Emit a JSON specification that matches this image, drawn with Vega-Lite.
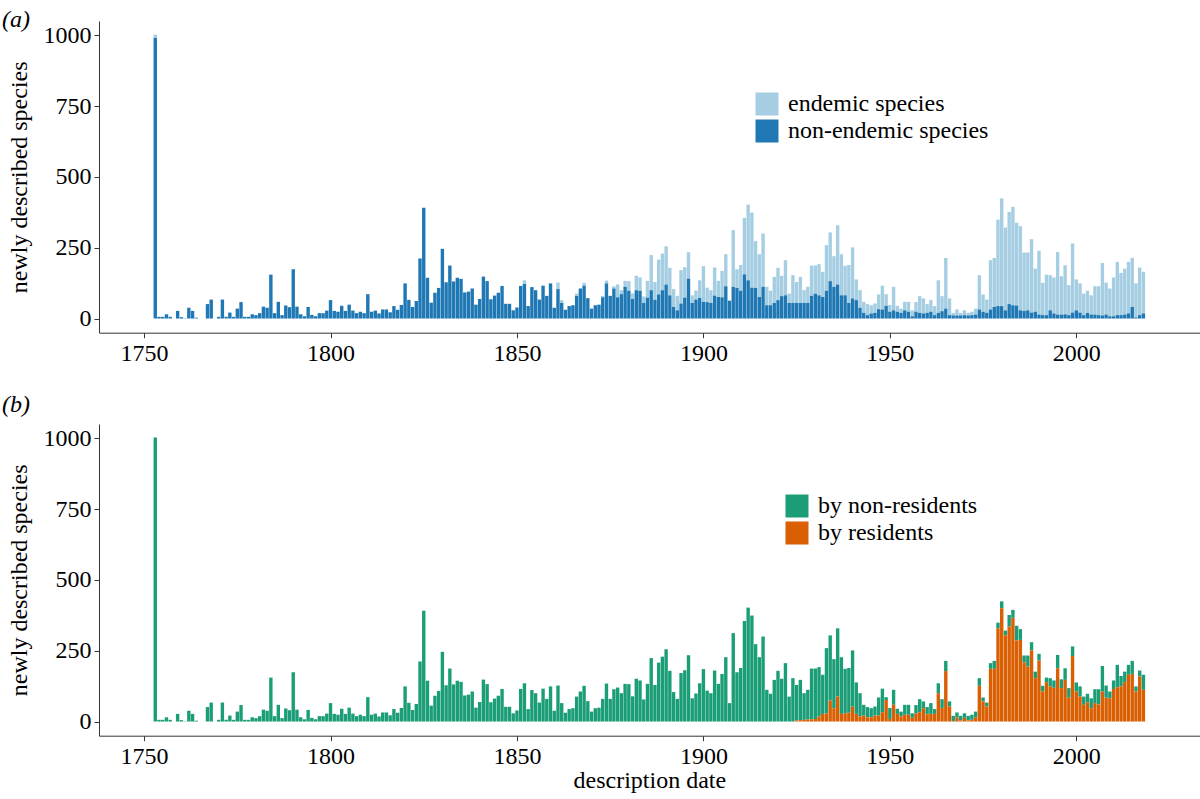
{
"$schema":"https://vega.github.io/schema/vega-lite/v6.json",
"padding":{"left":2,"top":8,"right":0,"bottom":0},
"background":"white",
"config":{
 "font":"Liberation Serif",
 "view":{"stroke":null},
 "axis":{"labelFont":"Liberation Serif","titleFont":"Liberation Serif","labelFontSize":24,"titleFontSize":24,"labelColor":"black","titleColor":"black","titleFontWeight":"normal","domainColor":"#333","domainWidth":1,"tickColor":"#333","tickWidth":1,"tickSize":5,"grid":false},
 "legend":{"labelFont":"Liberation Serif","labelFontSize":24,"labelColor":"black","labelLimit":500,"symbolType":"square","symbolSize":529,"symbolStrokeWidth":0,"symbolOpacity":1,"labelOffset":9,"rowPadding":3,"padding":0,"title":null},
 "title":{"anchor":"start","frame":"group","font":"Liberation Serif","fontSize":24,"fontWeight":"normal","fontStyle":"italic","color":"black","offset":0}
},
"datasets":{"d":[
{"yr":1753,"end":12,"nonend":990,"res":0,"nonres":1002},
{"yr":1754,"end":0,"nonend":6,"res":0,"nonres":6},
{"yr":1755,"end":0,"nonend":6,"res":0,"nonres":6},
{"yr":1756,"end":0,"nonend":15,"res":0,"nonres":15},
{"yr":1757,"end":0,"nonend":6,"res":0,"nonres":6},
{"yr":1758,"end":0,"nonend":0,"res":0,"nonres":0},
{"yr":1759,"end":0,"nonend":27,"res":0,"nonres":27},
{"yr":1760,"end":0,"nonend":5,"res":0,"nonres":5},
{"yr":1761,"end":0,"nonend":1,"res":0,"nonres":1},
{"yr":1762,"end":0,"nonend":38,"res":0,"nonres":38},
{"yr":1763,"end":0,"nonend":27,"res":0,"nonres":27},
{"yr":1764,"end":0,"nonend":3,"res":0,"nonres":3},
{"yr":1765,"end":0,"nonend":0,"res":0,"nonres":0},
{"yr":1766,"end":0,"nonend":0,"res":0,"nonres":0},
{"yr":1767,"end":0,"nonend":51,"res":0,"nonres":51},
{"yr":1768,"end":0,"nonend":67,"res":0,"nonres":67},
{"yr":1769,"end":0,"nonend":0,"res":0,"nonres":0},
{"yr":1770,"end":0,"nonend":6,"res":0,"nonres":6},
{"yr":1771,"end":0,"nonend":67,"res":0,"nonres":67},
{"yr":1772,"end":0,"nonend":6,"res":0,"nonres":6},
{"yr":1773,"end":0,"nonend":21,"res":0,"nonres":21},
{"yr":1774,"end":0,"nonend":6,"res":0,"nonres":6},
{"yr":1775,"end":0,"nonend":35,"res":0,"nonres":35},
{"yr":1776,"end":0,"nonend":58,"res":0,"nonres":58},
{"yr":1777,"end":0,"nonend":6,"res":0,"nonres":6},
{"yr":1778,"end":0,"nonend":6,"res":0,"nonres":6},
{"yr":1779,"end":0,"nonend":15,"res":0,"nonres":15},
{"yr":1780,"end":0,"nonend":12,"res":0,"nonres":12},
{"yr":1781,"end":0,"nonend":19,"res":0,"nonres":19},
{"yr":1782,"end":0,"nonend":42,"res":0,"nonres":42},
{"yr":1783,"end":0,"nonend":38,"res":0,"nonres":38},
{"yr":1784,"end":0,"nonend":155,"res":0,"nonres":155},
{"yr":1785,"end":0,"nonend":19,"res":0,"nonres":19},
{"yr":1786,"end":0,"nonend":59,"res":0,"nonres":59},
{"yr":1787,"end":0,"nonend":12,"res":0,"nonres":12},
{"yr":1788,"end":0,"nonend":46,"res":0,"nonres":46},
{"yr":1789,"end":0,"nonend":40,"res":0,"nonres":40},
{"yr":1790,"end":0,"nonend":174,"res":0,"nonres":174},
{"yr":1791,"end":0,"nonend":42,"res":0,"nonres":42},
{"yr":1792,"end":0,"nonend":15,"res":0,"nonres":15},
{"yr":1793,"end":0,"nonend":8,"res":0,"nonres":8},
{"yr":1794,"end":0,"nonend":41,"res":0,"nonres":41},
{"yr":1795,"end":0,"nonend":13,"res":0,"nonres":13},
{"yr":1796,"end":0,"nonend":8,"res":0,"nonres":8},
{"yr":1797,"end":0,"nonend":19,"res":0,"nonres":19},
{"yr":1798,"end":0,"nonend":19,"res":0,"nonres":19},
{"yr":1799,"end":0,"nonend":28,"res":0,"nonres":28},
{"yr":1800,"end":0,"nonend":65,"res":0,"nonres":65},
{"yr":1801,"end":0,"nonend":27,"res":0,"nonres":27},
{"yr":1802,"end":0,"nonend":24,"res":0,"nonres":24},
{"yr":1803,"end":0,"nonend":45,"res":0,"nonres":45},
{"yr":1804,"end":0,"nonend":27,"res":0,"nonres":27},
{"yr":1805,"end":0,"nonend":49,"res":0,"nonres":49},
{"yr":1806,"end":0,"nonend":28,"res":0,"nonres":28},
{"yr":1807,"end":0,"nonend":19,"res":0,"nonres":19},
{"yr":1808,"end":0,"nonend":24,"res":0,"nonres":24},
{"yr":1809,"end":0,"nonend":19,"res":0,"nonres":19},
{"yr":1810,"end":0,"nonend":86,"res":0,"nonres":86},
{"yr":1811,"end":0,"nonend":24,"res":0,"nonres":24},
{"yr":1812,"end":0,"nonend":28,"res":0,"nonres":28},
{"yr":1813,"end":0,"nonend":18,"res":0,"nonres":18},
{"yr":1814,"end":0,"nonend":32,"res":0,"nonres":32},
{"yr":1815,"end":0,"nonend":32,"res":0,"nonres":32},
{"yr":1816,"end":0,"nonend":22,"res":0,"nonres":22},
{"yr":1817,"end":0,"nonend":44,"res":0,"nonres":44},
{"yr":1818,"end":0,"nonend":31,"res":0,"nonres":31},
{"yr":1819,"end":0,"nonend":48,"res":0,"nonres":48},
{"yr":1820,"end":0,"nonend":124,"res":0,"nonres":124},
{"yr":1821,"end":0,"nonend":66,"res":0,"nonres":66},
{"yr":1822,"end":0,"nonend":41,"res":0,"nonres":41},
{"yr":1823,"end":0,"nonend":62,"res":0,"nonres":62},
{"yr":1824,"end":0,"nonend":212,"res":0,"nonres":212},
{"yr":1825,"end":0,"nonend":391,"res":0,"nonres":391},
{"yr":1826,"end":0,"nonend":144,"res":0,"nonres":144},
{"yr":1827,"end":0,"nonend":56,"res":0,"nonres":56},
{"yr":1828,"end":0,"nonend":91,"res":0,"nonres":91},
{"yr":1829,"end":0,"nonend":108,"res":0,"nonres":108},
{"yr":1830,"end":0,"nonend":246,"res":0,"nonres":246},
{"yr":1831,"end":0,"nonend":128,"res":0,"nonres":128},
{"yr":1832,"end":0,"nonend":187,"res":0,"nonres":187},
{"yr":1833,"end":0,"nonend":131,"res":0,"nonres":131},
{"yr":1834,"end":0,"nonend":144,"res":0,"nonres":144},
{"yr":1835,"end":0,"nonend":140,"res":0,"nonres":140},
{"yr":1836,"end":0,"nonend":92,"res":0,"nonres":92},
{"yr":1837,"end":0,"nonend":95,"res":0,"nonres":95},
{"yr":1838,"end":0,"nonend":106,"res":0,"nonres":106},
{"yr":1839,"end":0,"nonend":49,"res":0,"nonres":49},
{"yr":1840,"end":0,"nonend":69,"res":0,"nonres":69},
{"yr":1841,"end":0,"nonend":148,"res":0,"nonres":148},
{"yr":1842,"end":0,"nonend":132,"res":0,"nonres":132},
{"yr":1843,"end":0,"nonend":68,"res":0,"nonres":68},
{"yr":1844,"end":0,"nonend":81,"res":0,"nonres":81},
{"yr":1845,"end":0,"nonend":91,"res":0,"nonres":91},
{"yr":1846,"end":0,"nonend":115,"res":0,"nonres":115},
{"yr":1847,"end":0,"nonend":52,"res":0,"nonres":52},
{"yr":1848,"end":0,"nonend":52,"res":0,"nonres":52},
{"yr":1849,"end":0,"nonend":29,"res":0,"nonres":29},
{"yr":1850,"end":0,"nonend":39,"res":0,"nonres":39},
{"yr":1851,"end":0,"nonend":115,"res":0,"nonres":115},
{"yr":1852,"end":13,"nonend":122,"res":0,"nonres":135},
{"yr":1853,"end":0,"nonend":44,"res":0,"nonres":44},
{"yr":1854,"end":0,"nonend":111,"res":0,"nonres":111},
{"yr":1855,"end":0,"nonend":100,"res":0,"nonres":100},
{"yr":1856,"end":0,"nonend":67,"res":0,"nonres":67},
{"yr":1857,"end":0,"nonend":116,"res":0,"nonres":116},
{"yr":1858,"end":0,"nonend":80,"res":0,"nonres":80},
{"yr":1859,"end":0,"nonend":124,"res":0,"nonres":124},
{"yr":1860,"end":0,"nonend":38,"res":0,"nonres":38},
{"yr":1861,"end":23,"nonend":104,"res":0,"nonres":127},
{"yr":1862,"end":10,"nonend":55,"res":0,"nonres":65},
{"yr":1863,"end":0,"nonend":31,"res":0,"nonres":31},
{"yr":1864,"end":0,"nonend":44,"res":0,"nonres":44},
{"yr":1865,"end":0,"nonend":47,"res":0,"nonres":47},
{"yr":1866,"end":8,"nonend":80,"res":0,"nonres":88},
{"yr":1867,"end":0,"nonend":106,"res":0,"nonres":106},
{"yr":1868,"end":10,"nonend":116,"res":0,"nonres":126},
{"yr":1869,"end":0,"nonend":72,"res":0,"nonres":72},
{"yr":1870,"end":0,"nonend":35,"res":0,"nonres":35},
{"yr":1871,"end":0,"nonend":47,"res":0,"nonres":47},
{"yr":1872,"end":0,"nonend":49,"res":0,"nonres":49},
{"yr":1873,"end":5,"nonend":75,"res":0,"nonres":80},
{"yr":1874,"end":10,"nonend":124,"res":0,"nonres":134},
{"yr":1875,"end":0,"nonend":80,"res":0,"nonres":80},
{"yr":1876,"end":8,"nonend":106,"res":0,"nonres":114},
{"yr":1877,"end":45,"nonend":75,"res":0,"nonres":120},
{"yr":1878,"end":14,"nonend":86,"res":0,"nonres":100},
{"yr":1879,"end":21,"nonend":112,"res":0,"nonres":133},
{"yr":1880,"end":34,"nonend":98,"res":0,"nonres":132},
{"yr":1881,"end":20,"nonend":69,"res":0,"nonres":89},
{"yr":1882,"end":51,"nonend":100,"res":0,"nonres":151},
{"yr":1883,"end":47,"nonend":98,"res":0,"nonres":145},
{"yr":1884,"end":23,"nonend":55,"res":0,"nonres":78},
{"yr":1885,"end":59,"nonend":74,"res":0,"nonres":133},
{"yr":1886,"end":124,"nonend":100,"res":0,"nonres":224},
{"yr":1887,"end":63,"nonend":66,"res":0,"nonres":129},
{"yr":1888,"end":123,"nonend":85,"res":0,"nonres":208},
{"yr":1889,"end":129,"nonend":100,"res":0,"nonres":229},
{"yr":1890,"end":135,"nonend":120,"res":0,"nonres":255},
{"yr":1891,"end":97,"nonend":82,"res":0,"nonres":179},
{"yr":1892,"end":63,"nonend":41,"res":0,"nonres":104},
{"yr":1893,"end":51,"nonend":29,"res":0,"nonres":80},
{"yr":1894,"end":118,"nonend":53,"res":0,"nonres":171},
{"yr":1895,"end":107,"nonend":74,"res":0,"nonres":181},
{"yr":1896,"end":93,"nonend":141,"res":0,"nonres":234},
{"yr":1897,"end":27,"nonend":55,"res":0,"nonres":82},
{"yr":1898,"end":32,"nonend":67,"res":0,"nonres":99},
{"yr":1899,"end":62,"nonend":73,"res":0,"nonres":135},
{"yr":1900,"end":126,"nonend":59,"res":0,"nonres":185},
{"yr":1901,"end":51,"nonend":58,"res":0,"nonres":109},
{"yr":1902,"end":45,"nonend":55,"res":0,"nonres":100},
{"yr":1903,"end":99,"nonend":81,"res":0,"nonres":180},
{"yr":1904,"end":57,"nonend":76,"res":0,"nonres":133},
{"yr":1905,"end":93,"nonend":75,"res":0,"nonres":168},
{"yr":1906,"end":113,"nonend":114,"res":0,"nonres":227},
{"yr":1907,"end":3,"nonend":62,"res":0,"nonres":65},
{"yr":1908,"end":200,"nonend":112,"res":0,"nonres":312},
{"yr":1909,"end":66,"nonend":108,"res":0,"nonres":174},
{"yr":1910,"end":91,"nonend":98,"res":0,"nonres":189},
{"yr":1911,"end":199,"nonend":156,"res":0,"nonres":355},
{"yr":1912,"end":267,"nonend":135,"res":0,"nonres":402},
{"yr":1913,"end":265,"nonend":109,"res":0,"nonres":374},
{"yr":1914,"end":165,"nonend":108,"res":0,"nonres":273},
{"yr":1915,"end":151,"nonend":76,"res":0,"nonres":227},
{"yr":1916,"end":188,"nonend":112,"res":0,"nonres":300},
{"yr":1917,"end":65,"nonend":47,"res":0,"nonres":112},
{"yr":1918,"end":51,"nonend":47,"res":0,"nonres":98},
{"yr":1919,"end":92,"nonend":55,"res":0,"nonres":147},
{"yr":1920,"end":114,"nonend":65,"res":0,"nonres":179},
{"yr":1921,"end":72,"nonend":79,"res":0,"nonres":151},
{"yr":1922,"end":124,"nonend":82,"res":0,"nonres":206},
{"yr":1923,"end":33,"nonend":55,"res":0,"nonres":88},
{"yr":1924,"end":98,"nonend":55,"res":0,"nonres":153},
{"yr":1925,"end":74,"nonend":55,"res":4,"nonres":125},
{"yr":1926,"end":92,"nonend":55,"res":5,"nonres":142},
{"yr":1927,"end":45,"nonend":55,"res":6,"nonres":94},
{"yr":1928,"end":57,"nonend":55,"res":7,"nonres":105},
{"yr":1929,"end":107,"nonend":80,"res":8,"nonres":179},
{"yr":1930,"end":99,"nonend":88,"res":9,"nonres":178},
{"yr":1931,"end":110,"nonend":82,"res":18,"nonres":174},
{"yr":1932,"end":89,"nonend":76,"res":27,"nonres":138},
{"yr":1933,"end":161,"nonend":98,"res":29,"nonres":230},
{"yr":1934,"end":172,"nonend":132,"res":74,"nonres":230},
{"yr":1935,"end":108,"nonend":112,"res":47,"nonres":173},
{"yr":1936,"end":209,"nonend":120,"res":88,"nonres":241},
{"yr":1937,"end":145,"nonend":82,"res":27,"nonres":200},
{"yr":1938,"end":104,"nonend":82,"res":29,"nonres":157},
{"yr":1939,"end":134,"nonend":55,"res":31,"nonres":158},
{"yr":1940,"end":180,"nonend":71,"res":53,"nonres":198},
{"yr":1941,"end":73,"nonend":65,"res":27,"nonres":111},
{"yr":1942,"end":62,"nonend":38,"res":18,"nonres":82},
{"yr":1943,"end":39,"nonend":20,"res":21,"nonres":38},
{"yr":1944,"end":39,"nonend":12,"res":15,"nonres":36},
{"yr":1945,"end":29,"nonend":18,"res":15,"nonres":32},
{"yr":1946,"end":33,"nonend":20,"res":21,"nonres":32},
{"yr":1947,"end":52,"nonend":33,"res":21,"nonres":64},
{"yr":1948,"end":84,"nonend":32,"res":33,"nonres":83},
{"yr":1949,"end":41,"nonend":45,"res":76,"nonres":10},
{"yr":1950,"end":24,"nonend":24,"res":9,"nonres":39},
{"yr":1951,"end":83,"nonend":29,"res":59,"nonres":53},
{"yr":1952,"end":21,"nonend":24,"res":27,"nonres":18},
{"yr":1953,"end":15,"nonend":20,"res":18,"nonres":17},
{"yr":1954,"end":30,"nonend":29,"res":24,"nonres":35},
{"yr":1955,"end":35,"nonend":24,"res":24,"nonres":35},
{"yr":1956,"end":21,"nonend":8,"res":13,"nonres":16},
{"yr":1957,"end":34,"nonend":24,"res":29,"nonres":29},
{"yr":1958,"end":59,"nonend":20,"res":33,"nonres":46},
{"yr":1959,"end":53,"nonend":18,"res":47,"nonres":24},
{"yr":1960,"end":31,"nonend":20,"res":25,"nonres":26},
{"yr":1961,"end":41,"nonend":24,"res":27,"nonres":38},
{"yr":1962,"end":32,"nonend":12,"res":27,"nonres":17},
{"yr":1963,"end":115,"nonend":20,"res":100,"nonres":35},
{"yr":1964,"end":53,"nonend":26,"res":48,"nonres":31},
{"yr":1965,"end":179,"nonend":35,"res":178,"nonres":36},
{"yr":1966,"end":59,"nonend":12,"res":53,"nonres":18},
{"yr":1967,"end":9,"nonend":11,"res":2,"nonres":18},
{"yr":1968,"end":21,"nonend":11,"res":15,"nonres":17},
{"yr":1969,"end":9,"nonend":11,"res":4,"nonres":16},
{"yr":1970,"end":17,"nonend":12,"res":13,"nonres":16},
{"yr":1971,"end":9,"nonend":11,"res":4,"nonres":16},
{"yr":1972,"end":12,"nonend":12,"res":6,"nonres":18},
{"yr":1973,"end":21,"nonend":14,"res":15,"nonres":20},
{"yr":1974,"end":121,"nonend":32,"res":126,"nonres":27},
{"yr":1975,"end":61,"nonend":24,"res":71,"nonres":14},
{"yr":1976,"end":47,"nonend":20,"res":53,"nonres":14},
{"yr":1977,"end":174,"nonend":32,"res":186,"nonres":20},
{"yr":1978,"end":173,"nonend":41,"res":186,"nonres":28},
{"yr":1979,"end":305,"nonend":44,"res":329,"nonres":20},
{"yr":1980,"end":380,"nonend":44,"res":400,"nonres":24},
{"yr":1981,"end":292,"nonend":29,"res":304,"nonres":17},
{"yr":1982,"end":325,"nonend":51,"res":335,"nonres":41},
{"yr":1983,"end":347,"nonend":47,"res":366,"nonres":28},
{"yr":1984,"end":292,"nonend":46,"res":286,"nonres":52},
{"yr":1985,"end":297,"nonend":29,"res":288,"nonres":38},
{"yr":1986,"end":206,"nonend":27,"res":209,"nonres":24},
{"yr":1987,"end":204,"nonend":29,"res":194,"nonres":39},
{"yr":1988,"end":259,"nonend":21,"res":251,"nonres":29},
{"yr":1989,"end":152,"nonend":24,"res":153,"nonres":23},
{"yr":1990,"end":225,"nonend":14,"res":215,"nonres":24},
{"yr":1991,"end":114,"nonend":12,"res":106,"nonres":20},
{"yr":1992,"end":143,"nonend":12,"res":139,"nonres":16},
{"yr":1993,"end":124,"nonend":29,"res":124,"nonres":29},
{"yr":1994,"end":127,"nonend":18,"res":119,"nonres":26},
{"yr":1995,"end":221,"nonend":14,"res":188,"nonres":47},
{"yr":1996,"end":135,"nonend":14,"res":118,"nonres":31},
{"yr":1997,"end":173,"nonend":15,"res":147,"nonres":41},
{"yr":1998,"end":106,"nonend":12,"res":84,"nonres":34},
{"yr":1999,"end":244,"nonend":21,"res":231,"nonres":34},
{"yr":2000,"end":109,"nonend":29,"res":106,"nonres":32},
{"yr":2001,"end":103,"nonend":21,"res":88,"nonres":36},
{"yr":2002,"end":76,"nonend":12,"res":59,"nonres":29},
{"yr":2003,"end":78,"nonend":20,"res":68,"nonres":30},
{"yr":2004,"end":68,"nonend":14,"res":47,"nonres":35},
{"yr":2005,"end":100,"nonend":14,"res":65,"nonres":49},
{"yr":2006,"end":102,"nonend":12,"res":60,"nonres":54},
{"yr":2007,"end":185,"nonend":11,"res":106,"nonres":90},
{"yr":2008,"end":113,"nonend":14,"res":84,"nonres":43},
{"yr":2009,"end":98,"nonend":8,"res":82,"nonres":24},
{"yr":2010,"end":137,"nonend":8,"res":115,"nonres":30},
{"yr":2011,"end":188,"nonend":12,"res":121,"nonres":79},
{"yr":2012,"end":149,"nonend":12,"res":124,"nonres":37},
{"yr":2013,"end":162,"nonend":14,"res":139,"nonres":37},
{"yr":2014,"end":182,"nonend":18,"res":165,"nonres":35},
{"yr":2015,"end":173,"nonend":41,"res":168,"nonres":46},
{"yr":2016,"end":120,"nonend":4,"res":106,"nonres":18},
{"yr":2017,"end":168,"nonend":12,"res":159,"nonres":21},
{"yr":2018,"end":147,"nonend":18,"res":112,"nonres":53}
]},
"bounds":"flush",
"spacing":91,
"resolve":{"scale":{"color":"independent","x":"independent","y":"independent"},"legend":{"color":"independent"}},
"vconcat":[
{
 "width":1100.7,"height":311.7,
 "title":{"text":"(a)","dx":-97,"dy":15},
 "data":{"name":"d"},
 "transform":[{"fold":["end","nonend"],"as":["grpA","countA"]}],
 "mark":{"type":"bar","size":3.4},
 "encoding":{
  "x":{"field":"yr","type":"quantitative","scale":{"domain":[1739.25,2031.75],"nice":false,"zero":false},"axis":{"values":[1750,1800,1850,1900,1950,2000],"format":"d","title":null,"labelPadding":4}},
  "y":{"field":"countA","type":"quantitative","stack":"zero","scale":{"domain":[-50,1050],"nice":false,"zero":false},"axis":{"values":[0,250,500,750,1000],"format":"d","title":"newly described species","labelPadding":3,"titlePadding":11}},
  "color":{"field":"grpA","type":"nominal","scale":{"domain":["end","nonend"],"range":["#a6cee3","#1f78b4"]},"legend":{"orient":"none","legendX":656,"legendY":71,"labelExpr":"datum.value == 'end' ? 'endemic species' : 'non-endemic species'"}},
  "order":{"field":"grpA","sort":"descending"}
 }
},
{
 "width":1100.7,"height":311.7,
 "title":{"text":"(b)","dx":-97,"dy":-3},
 "data":{"name":"d"},
 "transform":[{"fold":["nonres","res"],"as":["grpB","countB"]}],
 "mark":{"type":"bar","size":3.4},
 "encoding":{
  "x":{"field":"yr","type":"quantitative","scale":{"domain":[1739.25,2031.75],"nice":false,"zero":false},"axis":{"values":[1750,1800,1850,1900,1950,2000],"format":"d","title":"description date","labelPadding":4,"titlePadding":0}},
  "y":{"field":"countB","type":"quantitative","stack":"zero","scale":{"domain":[-50,1050],"nice":false,"zero":false},"axis":{"values":[0,250,500,750,1000],"format":"d","title":"newly described species","labelPadding":3,"titlePadding":11}},
  "color":{"field":"grpB","type":"nominal","scale":{"domain":["nonres","res"],"range":["#1b9e77","#d95f02"]},"legend":{"orient":"none","legendX":686,"legendY":70,"labelExpr":"datum.value == 'nonres' ? 'by non-residents' : 'by residents'"}},
  "order":{"field":"grpB","sort":"descending"}
 }
}
]
}
